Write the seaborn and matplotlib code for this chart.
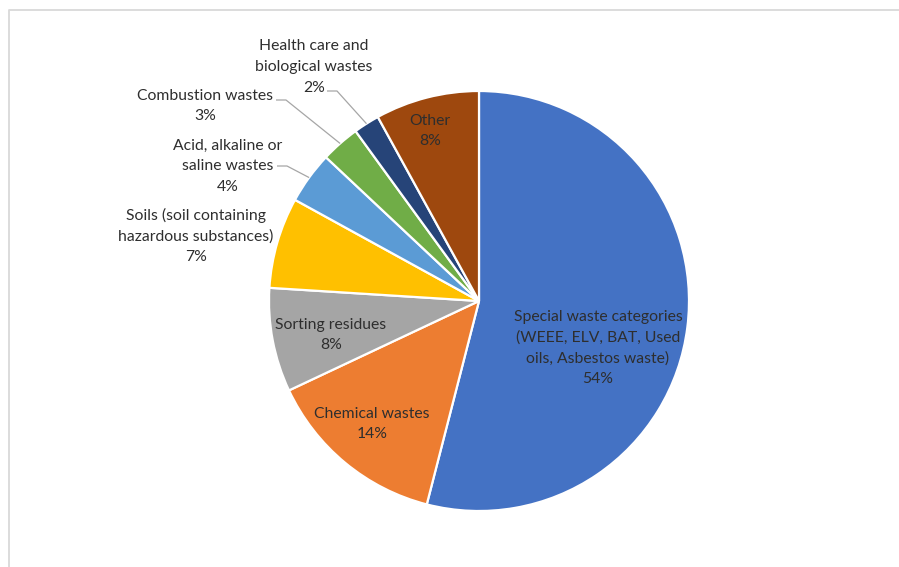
import numpy as np
import matplotlib
matplotlib.use("Agg")
import matplotlib.pyplot as plt
import seaborn as sns

# Hazardous waste composition, shares in percent (clockwise from 12 o'clock)
categories = [
    "Special waste categories\n(WEEE, ELV, BAT, Used\noils, Asbestos waste)",
    "Chemical wastes",
    "Sorting residues",
    "Soils (soil containing\nhazardous substances)",
    "Acid, alkaline or\nsaline wastes",
    "Combustion wastes",
    "Health care and\nbiological wastes",
    "Other",
]
shares = [54, 14, 8, 7, 4, 3, 2, 8]
colors = ["#4472C4", "#ED7D31", "#A5A5A5", "#FFC000",
          "#5B9BD5", "#70AD47", "#264478", "#9E480E"]

# Label centres in pixel coordinates (x from left, y from top)
label_pos = [(598, 348), (372, 424), (331, 335), (196, 236),
             (228, 166), (205, 106), (314, 67), (430, 131)]
# Leader elbows (x_start, x_end, y) for the labels set outside the pie
leaders = {4: (277, 287, 166), 5: (276, 286, 100), 6: (327, 337, 91)}

sns.set_theme(style="white")
plt.rcParams["font.family"] = ["Lato", "DejaVu Sans"]

W, H = 899, 567
CX, CY, R = 479, 301, 210
TEXT = "#2e2e2e"

fig = plt.figure(figsize=(W / 100, H / 100), dpi=100)
ax = fig.add_axes([0, 0, 1, 1])

wedges, _ = ax.pie(
    shares, colors=colors, startangle=90, counterclock=False,
    center=(CX, H - CY), radius=R, frame=True,
    wedgeprops=dict(edgecolor="white", linewidth=1.6),
)
ax.set_xlim(0, W)
ax.set_ylim(0, H)
ax.set_aspect("equal")
ax.axis("off")

for i, (name, val) in enumerate(zip(categories, shares)):
    x, y = label_pos[i]
    ax.text(x, H - y, f"{name}\n{val:.0f}%", ha="center", va="center",
            fontsize=11.3, color=TEXT, linespacing=1.6)
    if i in leaders:
        w = wedges[i]
        mid = np.deg2rad((w.theta1 + w.theta2) / 2)
        ex = CX + R * np.cos(mid)
        ey = (H - CY) + R * np.sin(mid)
        x0, x1, ly = leaders[i]
        ax.plot([x0, x1, ex], [H - ly, H - ly, ey], color="#A6A6A6",
                lw=0.9, solid_capstyle="butt")

# Chart area border
ax.plot([8.5, 8.5, W + 5], [-5, H - 9.5, H - 9.5], color="#D9D9D9",
        lw=1.3, clip_on=False)

fig.savefig("out.png", dpi=100)
